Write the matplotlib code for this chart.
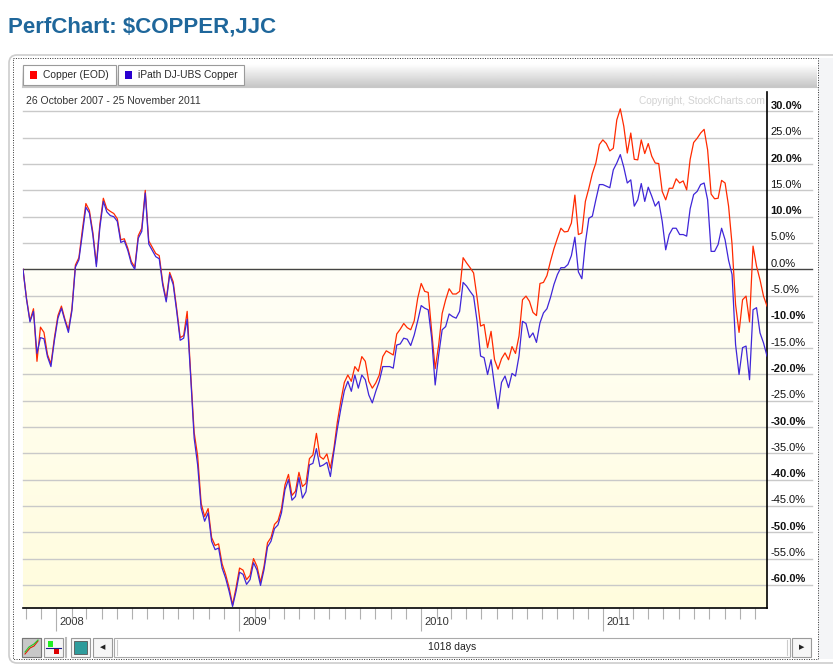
import numpy as np
import pandas as pd
import matplotlib
matplotlib.use('Agg')
import matplotlib.pyplot as plt
import matplotlib.dates as mdates
import matplotlib.transforms as mtrans
from matplotlib.patches import Rectangle, FancyBboxPatch
from matplotlib.colors import LinearSegmentedColormap

plt.rcParams['font.family'] = ['Liberation Sans', 'DejaVu Sans']

# ---------------- data (weekly, % change since 26 Oct 2007)
start_date = '2007-10-26'
end_date = '2011-11-25'

copper = [0.0, -5.5, -9.8, -7.5, -17.5, -11.0, -12.0, -16.2, -18.0, -13.0,
          -8.8, -7.0, -9.5, -11.5, -7.5, 0.8, 2.2, 7.5, 12.5, 11.2,
          7.0, 1.0, 8.5, 13.5, 11.5, 11.0, 10.6, 9.6, 5.6, 5.8,
          4.0, 1.5, 0.4, 6.4, 7.8, 15.0, 5.4, 4.2, 3.0, 2.6,
          -2.5, -5.8, -0.6, -2.4, -7.5, -13.0, -12.6, -8.0, -19.8, -31.0,
          -35.5, -44.5, -47.0, -45.5, -51.0, -52.5, -52.2, -56.0, -58.0, -60.5,
          -63.8, -60.5, -56.8, -57.2, -59.0, -58.2, -55.0, -56.5, -59.5, -56.5,
          -52.0, -51.0, -48.5, -47.8, -45.5, -41.0, -39.0, -43.0, -42.2, -38.6,
          -41.3, -40.7, -36.0, -35.3, -31.2, -35.6, -36.1, -35.1, -37.8, -34.1,
          -29.0, -25.0, -21.5, -20.1, -21.3, -18.5, -19.4, -16.6, -17.5, -21.3,
          -22.6, -21.6, -20.1, -16.6, -15.5, -15.9, -16.3, -12.3, -11.4, -10.3,
          -11.1, -11.5, -9.8, -5.5, -2.7, -4.2, -4.4, -11.8, -18.9, -14.4,
          -8.4, -5.8, -3.7, -4.7, -4.7, -4.2, 2.2, 1.2, 0.3, -0.7,
          -5.4, -10.8, -10.5, -14.9, -11.8, -17.2, -19.0, -17.0, -15.9, -17.2,
          -14.7, -16.0, -12.7, -5.8, -5.1, -6.1, -8.2, -8.8, -2.7, -2.5,
          -1.2, 1.5, 3.9, 5.9, 7.8, 7.1, 7.2, 8.8, 14.1, 6.6,
          6.9, 12.9, 15.4, 18.2, 20.2, 23.7, 24.6, 23.9, 22.5, 23.0,
          28.4, 30.5, 27.2, 22.1, 25.9, 20.9, 20.8, 24.6, 22.0, 23.9,
          21.5, 20.2, 20.1, 14.8, 13.2, 15.4, 15.4, 17.2, 16.4, 16.8,
          15.1, 20.9, 24.1, 24.9, 25.9, 26.6, 22.7, 14.3, 13.4, 13.5,
          16.9, 16.4, 12.0, 4.7, -6.7, -12.0, -5.8, -5.1, -10.0, 4.4,
          0.6, -2.0, -5.1, -7.0]

jjc = [0.0, -5.7, -10.0, -8.0, -16.0, -13.0, -13.2, -16.6, -18.5, -13.5,
       -9.3, -7.4, -9.8, -12.0, -7.9, 0.4, 1.8, 6.7, 11.8, 10.7,
       6.5, 0.5, 7.9, 12.9, 10.9, 10.2, 10.0, 9.1, 5.1, 5.4,
       3.6, 1.1, 0.0, 5.9, 7.2, 14.5, 4.8, 3.6, 2.4, 2.0,
       -3.0, -6.2, -1.0, -2.9, -8.0, -13.5, -13.1, -9.5, -20.4, -32.1,
       -37.2, -45.4, -47.9, -46.3, -51.7, -53.3, -53.0, -56.8, -58.7, -61.2,
       -64.1, -61.2, -57.6, -58.0, -59.9, -59.0, -55.8, -57.2, -60.1, -57.1,
       -52.8, -51.7, -49.3, -48.6, -46.3, -41.9, -40.0, -43.9, -43.2, -39.6,
       -43.5, -42.3, -37.2, -36.9, -34.1, -37.5, -37.2, -36.7, -39.4, -34.7,
       -30.3, -26.5, -23.1, -21.3, -23.2, -20.1, -22.6, -20.1, -21.0, -23.9,
       -25.4, -23.2, -21.3, -18.5, -18.5, -18.5, -18.8, -14.4, -14.2, -13.1,
       -13.3, -14.5, -12.5, -9.8, -6.9, -7.4, -7.7, -13.1, -22.0, -16.3,
       -11.5, -10.9, -8.5, -9.0, -9.3, -8.0, -2.5, -3.2, -4.2, -5.1,
       -9.9, -16.5, -16.8, -20.0, -17.2, -22.2, -26.5, -21.5, -20.3, -22.5,
       -19.8, -20.3, -16.5, -9.9, -10.3, -13.0, -12.1, -13.9, -10.2, -8.3,
       -7.5, -5.4, -2.9, -1.0, 0.3, 0.3, 0.9, 2.6, 6.1, -0.5,
       -1.8, 5.0, 9.7, 10.1, 13.2, 16.1, 16.1, 15.8, 15.5, 18.9,
       20.2, 21.8, 19.4, 16.4, 17.0, 12.0, 13.2, 16.3, 12.9, 15.6,
       13.9, 12.0, 12.9, 9.1, 3.7, 6.6, 7.8, 7.8, 6.6, 6.6,
       6.3, 11.5, 14.2, 14.8, 16.1, 16.4, 13.2, 3.4, 3.4, 4.7,
       7.8, 5.6, 1.7, -1.0, -14.3, -20.0, -14.9, -14.6, -21.0, -7.7,
       -7.3, -12.1, -14.0, -16.5]

series_names = ['Copper (EOD)', 'iPath DJ-UBS Copper']
series_colors = ['#ff2a00', '#3f26d8']
y_ticks = list(range(-60, 35, 5))
year_labels = ['2008', '2009', '2010', '2011']
n_days = 1018

dates = pd.date_range(start_date, end_date, freq='7D')

# ---------------- figure, pixel overlay for the page chrome
W, H = 833, 670
fig = plt.figure(figsize=(W / 100, H / 100), dpi=100)
fig.patch.set_facecolor('white')
bg = fig.add_axes([0, 0, 1, 1])
bg.set_xlim(0, W)
bg.set_ylim(H, 0)
bg.axis('off')

bg.text(8, 27, 'PerfChart: $COPPER,JJC', fontsize=16, weight='bold',
        color='#1f679b', va='center', ha='left')

# outer panel
bg.add_patch(FancyBboxPatch((9, 55), 840, 608, boxstyle='round,pad=0,rounding_size=8',
                            fc='white', ec='#cdcdcd', lw=1.2))
bg.add_patch(Rectangle((818, 58), 20, 601, fc='#f4f5f7', ec='none'))
bg.add_patch(Rectangle((13, 58), 805, 601, fill=False, ec='#333333', lw=0.7,
                       ls=(0, (1, 1.5))))

# legend bar with gradient
grad = np.linspace(1, 0, 50).reshape(-1, 1)
bg.imshow(grad, extent=[22, 817, 87, 64], cmap='gray', vmin=-3.5, vmax=1,
          aspect='auto', zorder=1)
bg.plot([22, 817], [87, 87], color='#c8c8c8', lw=0.8, zorder=2)

btn_x = [23, 118]
btn_w = [93, 126]
for bx, bw, name, col in zip(btn_x, btn_w, series_names, ['#ff0000', '#2a00d0']):
    bg.add_patch(Rectangle((bx, 65), bw, 20, fc='white', ec='#9a9a9a', lw=0.8, zorder=3))
    bg.add_patch(Rectangle((bx + 7, 71), 7.5, 7.5, fc=col, ec='none', zorder=4))
    bg.text(bx + 20, 75.5, name, fontsize=7.4, color='#2a2a2a', va='center', zorder=4)

bg.text(26, 101, '26 October 2007 - 25 November 2011', fontsize=7.5,
        color='#333333', va='center', zorder=5)
bg.text(765, 101, 'Copyright, StockCharts.com', fontsize=7.3,
        color='#d2d2d2', va='center', ha='right', zorder=5)

# bottom toolbar
for bx, bw in [(22, 19), (44, 19), (71, 19), (93, 19), (792, 19)]:
    bg.add_patch(Rectangle((bx, 638), bw, 19, fc='#f6f6f6', ec='#9a9a9a', lw=0.8))
bg.add_patch(Rectangle((22, 638), 19, 19, fc='#c8c8c8', ec='#777777', lw=0.8))
bg.plot([66.5, 66.5], [638, 657], color='#bbbbbb', lw=1.5)
bg.plot([25, 30, 34, 38], [654, 648, 646, 641], color='#dd2200', lw=0.8)
bg.plot([25, 29, 34, 38], [652, 647, 644, 640], color='#22cc22', lw=0.8)
bg.add_patch(Rectangle((48, 641), 5, 6, fc='#22ee22', ec='none'))
bg.add_patch(Rectangle((54, 648), 5, 6, fc='#dd0000', ec='none'))
bg.plot([46, 61], [647.5, 647.5], color='#1a1a88', lw=0.8)
bg.add_patch(Rectangle((74, 641), 13, 13, fc='#2f9c9c', ec='#555555', lw=0.6))
bg.add_patch(Rectangle((114, 638), 676, 19, fc='white', ec='#aaaaaa', lw=0.8))
bg.plot([117, 117], [640, 655], color='#cccccc', lw=0.8)
bg.plot([787, 787], [640, 655], color='#cccccc', lw=0.8)
bg.text(102.5, 647.5, '\u25c0', fontsize=5, ha='center', va='center', color='#222222')
bg.text(801.5, 647.5, '\u25b6', fontsize=5, ha='center', va='center', color='#222222')
bg.text(452, 647.5, '%d days' % n_days, fontsize=7.5, ha='center', va='center',
        color='#222222')

# ---------------- plot area
px_l, px_r, px_t, px_b = 23, 767, 92, 607.5
ax = fig.add_axes([px_l / W, 1 - px_b / H, (px_r - px_l) / W, (px_b - px_t) / H])
ax.patch.set_alpha(0)
ax.set_zorder(5)

x0 = mdates.date2num(pd.Timestamp(start_date))
x1 = mdates.date2num(pd.Timestamp(end_date))
y_min, y_max = -64.3, 33.7

# yellow wash below zero, palest at the zero line
wash = np.linspace(0, 1, 100).reshape(-1, 1)
cm = LinearSegmentedColormap.from_list('wash', ['#fffff7', '#fffcdd'])
ax.imshow(wash, extent=[x0, x1, y_min, 0], cmap=cm, aspect='auto',
          origin='upper', zorder=0)

# gridlines run on past the right axis, under the labels
grid_end = (812 - px_l) / (px_r - px_l)
for v in y_ticks:
    if v == 0:
        continue
    ax.axhline(v, xmax=grid_end, color='#c9c9c9', lw=1.0, zorder=1, clip_on=False)
ax.axhline(0, xmax=grid_end, color='#444444', lw=1.0, zorder=2, clip_on=False)

ax.plot(dates, copper, color=series_colors[0], lw=0.9, zorder=3)
ax.plot(dates, jjc, color=series_colors[1], lw=0.9, zorder=4)

ax.set_xlim(x0, x1)
ax.set_ylim(y_min, y_max)

ax.spines['top'].set_visible(False)
ax.spines['left'].set_visible(False)
ax.spines['right'].set_color('black')
ax.spines['bottom'].set_color('black')
ax.spines['right'].set_linewidth(1.2)
ax.spines['bottom'].set_linewidth(1.2)

# y labels on the right, sitting a little above each gridline
ax.yaxis.tick_right()
ax.set_yticks(y_ticks)
ax.set_yticklabels(['%.1f%%' % v for v in y_ticks])
ax.tick_params(axis='y', length=0, pad=2.5, labelsize=8, labelcolor='#111111')
shift = mtrans.ScaledTranslation(0, 6.5 / 100, fig.dpi_scale_trans)
for v, lab in zip(y_ticks, ax.get_yticklabels()):
    lab.set_transform(lab.get_transform() + shift)
    if v % 10 == 0 and v != 0:
        lab.set_fontweight('bold')

# x axis: month ticks, long year ticks, year labels to the right of them
years = [pd.Timestamp(y + '-01-01') for y in year_labels]
ax.set_xticks(years)
ax.set_xticklabels(year_labels)
ax.xaxis.set_minor_locator(mdates.MonthLocator())
ax.tick_params(axis='x', which='major', length=0, pad=7, labelsize=8,
               labelcolor='#333333')
ax.tick_params(axis='x', which='minor', length=8, width=0.8, color='#b0b0b0')
xshift = mtrans.ScaledTranslation(3 / 100, 0, fig.dpi_scale_trans)
for lab in ax.get_xticklabels():
    lab.set_horizontalalignment('left')
    lab.set_transform(lab.get_transform() + xshift)
trans = mtrans.blended_transform_factory(ax.transData, ax.transAxes)
ax.vlines(years, -23 / (px_b - px_t), 0, transform=trans, color='#b0b0b0',
          lw=0.8, clip_on=False)

fig.savefig('out.png', dpi=100)
